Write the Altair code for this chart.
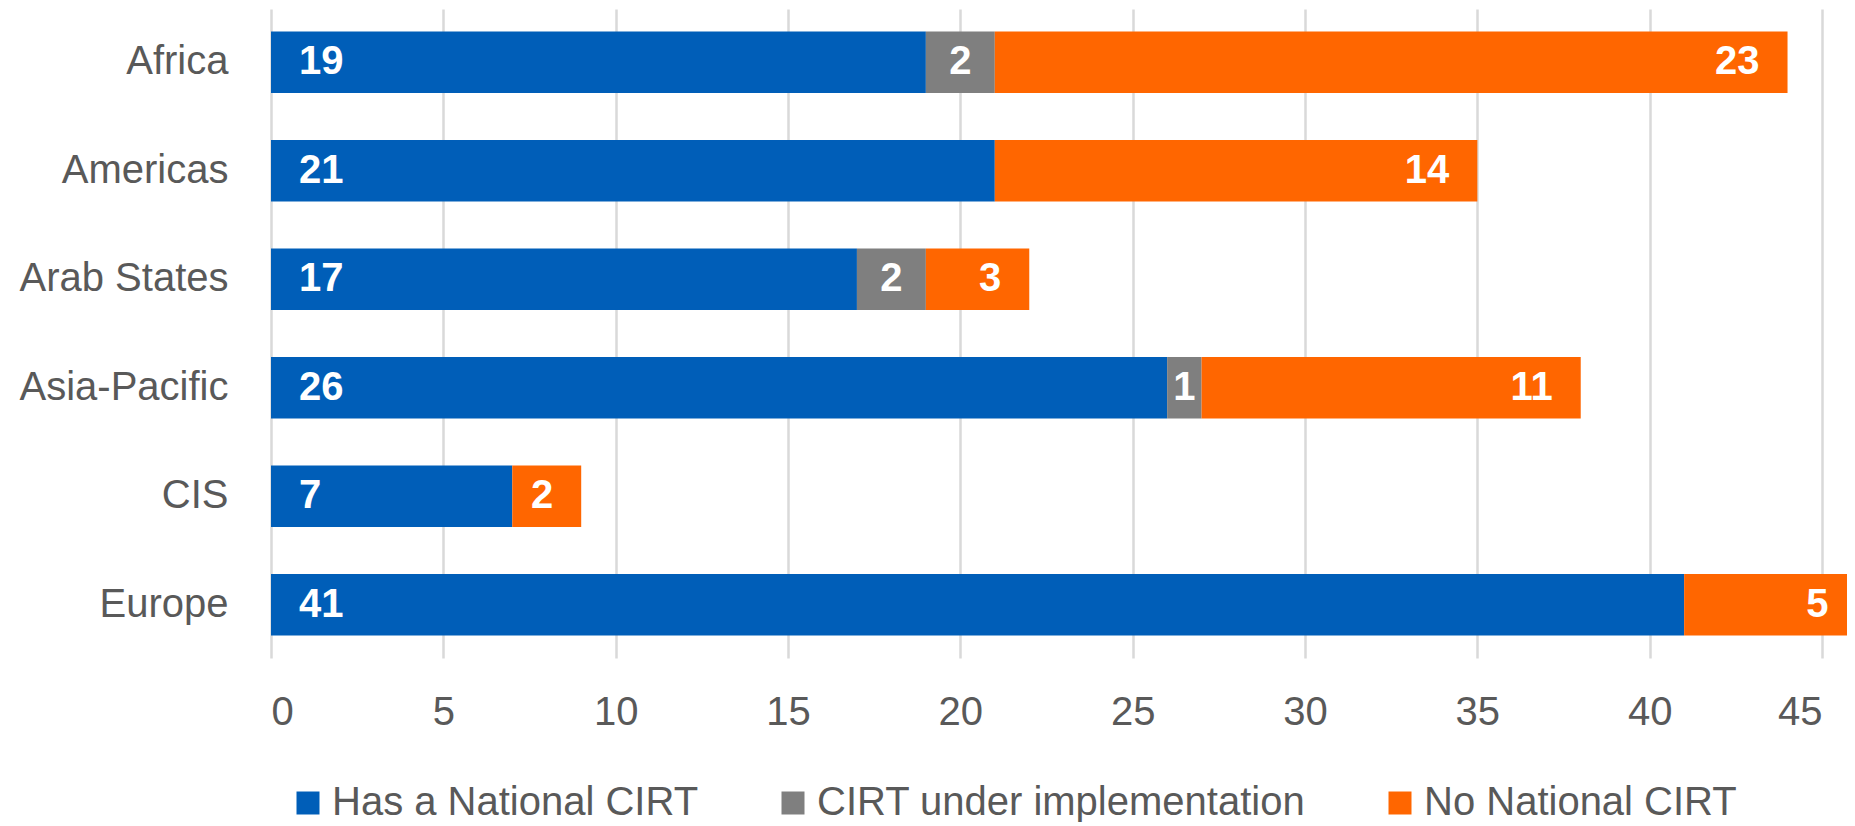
import altair as alt
import pandas as pd

regions = ["Africa", "Americas", "Arab States", "Asia-Pacific", "CIS", "Europe"]
has_cirt = [19, 21, 17, 26, 7, 41]
under_impl = [2, 0, 2, 1, 0, 0]
no_cirt = [23, 14, 3, 11, 2, 5]
categories = ["Has a National CIRT", "CIRT under implementation", "No National CIRT"]
colors = ["#005EB8", "#7F7F7F", "#FF6600"]
x_ticks = [0, 5, 10, 15, 20, 25, 30, 35, 40, 45]

rows = []
for i, r in enumerate(regions):
    for k, (cat, vals) in enumerate(zip(categories, [has_cirt, under_impl, no_cirt])):
        if vals[i] > 0:
            rows.append({"region": r, "category": cat, "value": vals[i], "order": k})
df = pd.DataFrame(rows)

FONT = "Liberation Sans"

base = alt.Chart(df).transform_stack(
    stack="value", groupby=["region"], as_=["x0", "x1"], sort=[alt.SortField("order")]
)

yenc = alt.Y("region:N", sort=regions,
             scale=alt.Scale(paddingInner=0.433, paddingOuter=0.208),
             axis=alt.Axis(title=None, domain=False, ticks=False, tickSize=0,
                           labelPadding=43, labelFontSize=40, labelFont=FONT,
                           labelColor="#595959", grid=False, labelLimit=600))

bars = base.mark_bar().encode(
    x=alt.X("x0:Q", scale=alt.Scale(domain=[0, 45], nice=False),
            axis=alt.Axis(title=None, values=x_ticks, domain=False, ticks=False,
                          labelPadding=34, labelFontSize=40, labelFont=FONT,
                          labelColor="#595959", grid=True, gridColor="#D9D9D9",
                          gridWidth=2.5)),
    x2="x1:Q",
    y=yenc,
    color=alt.Color("category:N", sort=categories,
                    scale=alt.Scale(domain=categories, range=colors),
                    legend=alt.Legend(title=None, orient="none", direction="horizontal",
                                      legendX=17, legendY=774, symbolType="square",
                                      symbolSize=529, symbolStrokeWidth=0,
                                      labelFontSize=40, labelFont=FONT,
                                      labelColor="#595959", labelOffset=4,
                                      columnPadding=74, padding=0,
                                      labelLimit=800)),
)

txt_style = dict(color="white", fontSize=40, fontWeight="bold", font=FONT, baseline="middle")

t_has = base.transform_filter(alt.datum.category == categories[0]).mark_text(
    align="left", dx=28, **txt_style).encode(x="x0:Q", y=alt.Y("region:N", sort=regions), text="value:Q")
t_mid = base.transform_filter(alt.datum.category == categories[1]).transform_calculate(
    mid="(datum.x0 + datum.x1) / 2").mark_text(
    align="center", **txt_style).encode(x="mid:Q", y=alt.Y("region:N", sort=regions), text="value:Q")
t_no = base.transform_filter(alt.datum.category == categories[2]).mark_text(
    align="right", dx=-28, **txt_style).encode(x="x1:Q", y=alt.Y("region:N", sort=regions), text="value:Q")

chart = alt.layer(bars, t_has, t_mid, t_no).properties(
    width=1551, height=649,
    padding={"left": 263, "top": 1, "right": 25, "bottom": 164},
    autosize=alt.AutoSizeParams(type="none"),
).configure_view(stroke=None)

chart.save("out.html", embed_options={"renderer": "svg", "actions": False})
